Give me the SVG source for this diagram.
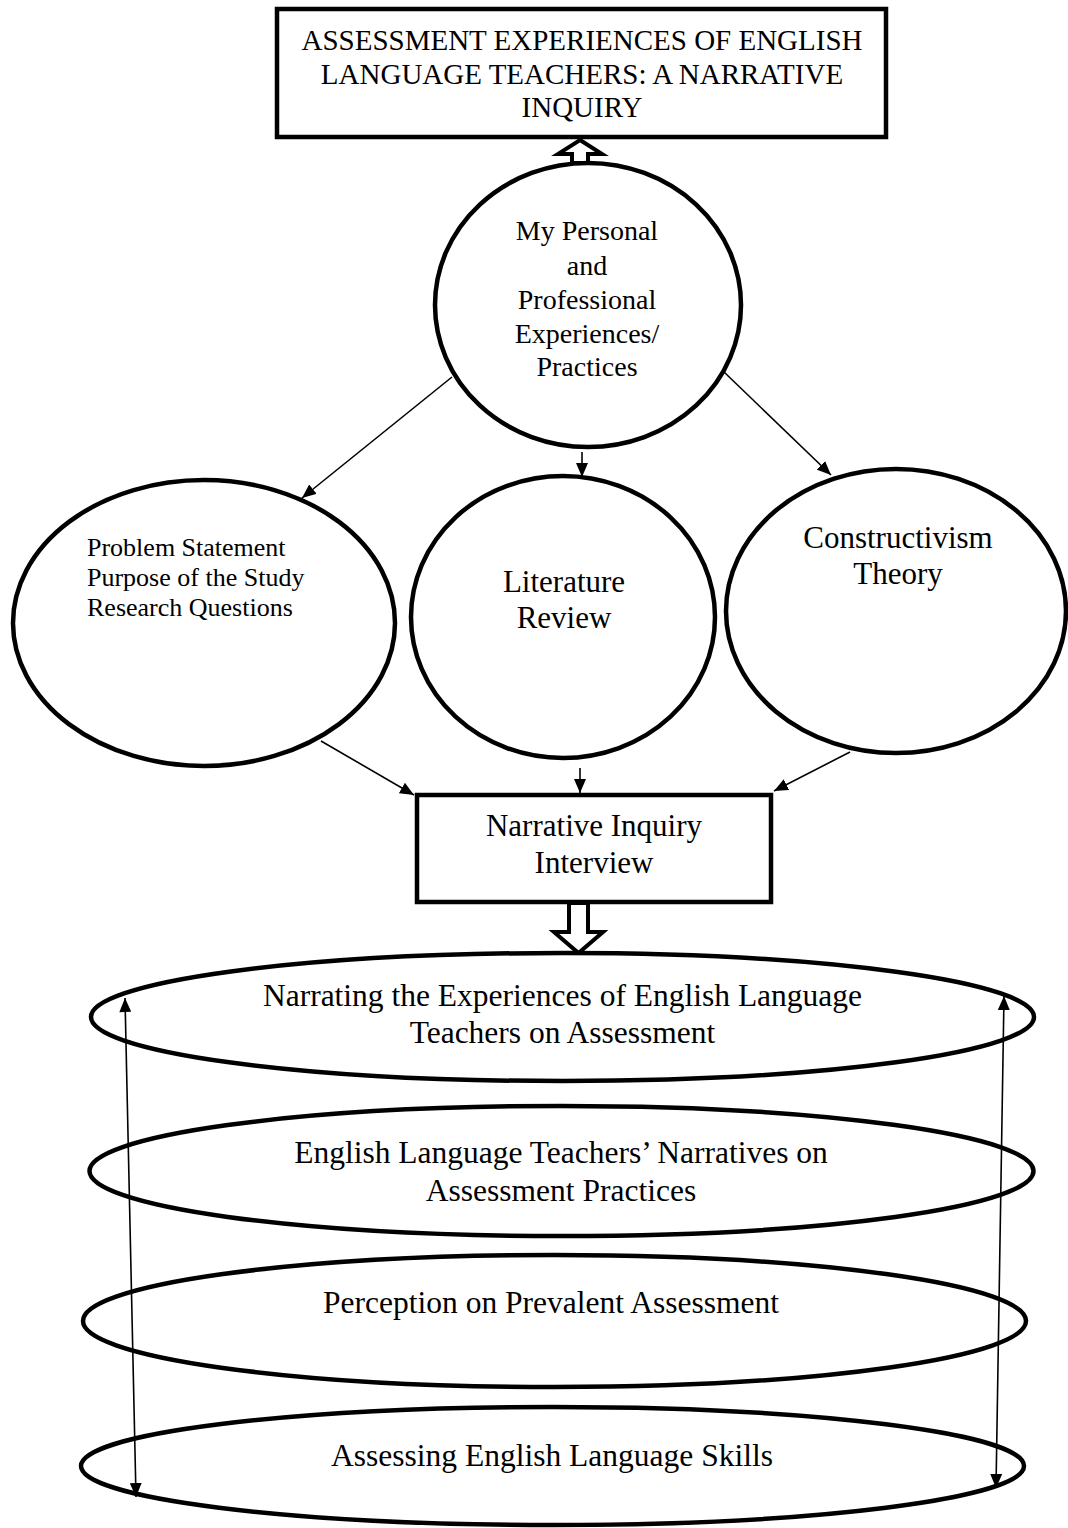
<svg xmlns="http://www.w3.org/2000/svg" width="1068" height="1528" viewBox="0 0 1068 1528">
<style>
.t{font-family:"Liberation Serif","Times New Roman",serif;fill:#000;text-anchor:middle}
.shape{fill:#fff;stroke:#000;stroke-width:4.5}
.con{stroke:#000;stroke-width:1.6;fill:none}
.hollow{fill:#fff;stroke:#000;stroke-width:4;stroke-linejoin:miter}
</style>
<defs>
<marker id="ah" markerUnits="userSpaceOnUse" markerWidth="15" markerHeight="12" refX="14" refY="6" orient="auto">
<path d="M0,0 L14,6 L0,12 z" fill="#000"/>
</marker>
<marker id="ahs" markerUnits="userSpaceOnUse" markerWidth="15" markerHeight="12" refX="0" refY="6" orient="auto">
<path d="M14,0 L0,6 L14,12 z" fill="#000"/>
</marker>
</defs>
<rect width="1068" height="1528" fill="#fff"/>

<g id="connectors">
<polygon class="hollow" points="580,140 602,154 588,154 588,163 572,163 572,154 558,154"/>
<line class="con" x1="452" y1="377" x2="302" y2="498" marker-end="url(#ah)"/>
<line class="con" x1="582" y1="452" x2="582" y2="477" marker-end="url(#ah)"/>
<line class="con" x1="724" y1="372" x2="831" y2="475" marker-end="url(#ah)"/>
<line class="con" x1="321" y1="741" x2="414" y2="795" marker-end="url(#ah)"/>
<line class="con" x1="580" y1="768" x2="580" y2="793" marker-end="url(#ah)"/>
<line class="con" x1="850" y1="752" x2="774" y2="791" marker-end="url(#ah)"/>
<polygon class="hollow" points="569,903 588,903 588,932 603,932 578.5,953 554,932 569,932"/>
</g>

<g id="title">
<rect class="shape" x="277" y="9" width="609" height="128"/>
<text class="t" font-size="29" x="582" y="50">ASSESSMENT EXPERIENCES OF ENGLISH</text>
<text class="t" font-size="29" x="582" y="84">LANGUAGE TEACHERS: A NARRATIVE</text>
<text class="t" font-size="29" x="582" y="117">INQUIRY</text>
</g>

<g id="personal">
<ellipse class="shape" cx="588" cy="305" rx="153" ry="142"/>
<text class="t" font-size="28" x="587" y="240">My Personal</text>
<text class="t" font-size="28" x="587" y="275">and</text>
<text class="t" font-size="28" x="587" y="309">Professional</text>
<text class="t" font-size="28" x="587" y="343">Experiences/</text>
<text class="t" font-size="28" x="587" y="376">Practices</text>
</g>

<g id="problem">
<ellipse class="shape" cx="204" cy="623" rx="191" ry="143"/>
<text class="t" font-size="26" x="87" y="556" style="text-anchor:start">Problem Statement</text>
<text class="t" font-size="26" x="87" y="586" style="text-anchor:start">Purpose of the Study</text>
<text class="t" font-size="26" x="87" y="616" style="text-anchor:start">Research Questions</text>
</g>

<g id="literature">
<ellipse class="shape" cx="563" cy="617" rx="152" ry="141"/>
<text class="t" font-size="31" x="564" y="592">Literature</text>
<text class="t" font-size="31" x="564" y="628">Review</text>
</g>

<g id="constructivism">
<ellipse class="shape" cx="896" cy="611" rx="170" ry="142"/>
<text class="t" font-size="31" x="898" y="548">Constructivism</text>
<text class="t" font-size="31" x="898" y="584">Theory</text>
</g>

<g id="interview">
<rect class="shape" x="417" y="795" width="354" height="107"/>
<text class="t" font-size="31" x="594" y="836">Narrative Inquiry</text>
<text class="t" font-size="31" x="594" y="873">Interview</text>
</g>

<g id="narrating">
<ellipse class="shape" cx="562.5" cy="1017" rx="471.5" ry="64"/>
<text class="t" font-size="31.5" x="562.5" y="1006">Narrating the Experiences of English Language</text>
<text class="t" font-size="31.5" x="562.5" y="1043">Teachers on Assessment</text>
</g>

<g id="narratives">
<ellipse class="shape" cx="561.5" cy="1171" rx="472" ry="65"/>
<text class="t" font-size="31.5" x="561" y="1163">English Language Teachers’ Narratives on</text>
<text class="t" font-size="31.5" x="561" y="1201">Assessment Practices</text>
</g>

<g id="perception">
<ellipse class="shape" cx="554.5" cy="1321" rx="471.5" ry="66"/>
<text class="t" font-size="31.5" x="551" y="1313">Perception on Prevalent Assessment</text>
</g>

<g id="assessing">
<ellipse class="shape" cx="552.5" cy="1466" rx="471.5" ry="59"/>
<text class="t" font-size="31.5" x="552" y="1466">Assessing English Language Skills</text>
</g>

<g id="side-connectors">
<line class="con" x1="125" y1="998" x2="136" y2="1497" marker-start="url(#ahs)" marker-end="url(#ah)"/>
<line class="con" x1="1004" y1="996" x2="996" y2="1488" marker-start="url(#ahs)" marker-end="url(#ah)"/>
</g>
</svg>
